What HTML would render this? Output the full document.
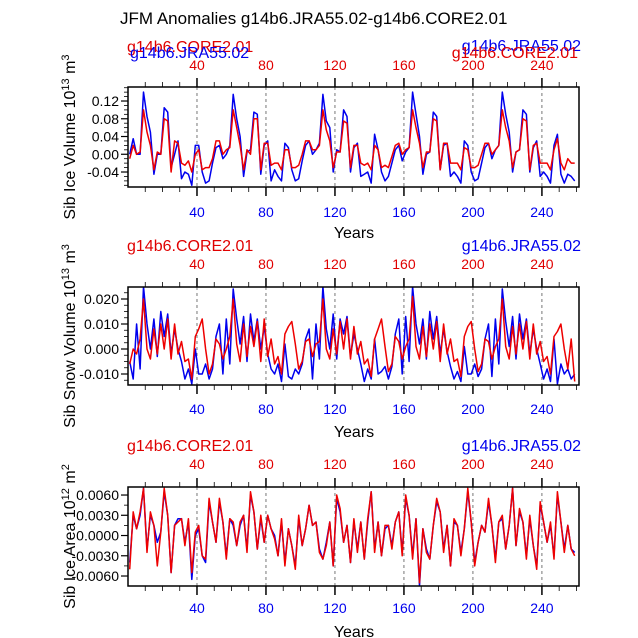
<!DOCTYPE html>
<html><head><meta charset="utf-8"><style>
html,body{margin:0;padding:0;background:#fff}
svg{display:block;font-family:"Liberation Sans",sans-serif}
</style></head><body>
<svg id="chart" width="638" height="638" viewBox="0 0 638 638" xmlns="http://www.w3.org/2000/svg">
<rect width="638" height="638" fill="#fff"/>
<text x="120" y="24" font-size="17" fill="#000">JFM Anomalies g14b6.JRA55.02-g14b6.CORE2.01</text>
</svg>
<script>
// years sampled every 2 years
const years = [];
for (let i = 0; i < 130; i++) years.push(1 + 2 * i);
const xTicks = [40, 80, 120, 160, 200, 240];

const volBlue = [
0.0,0.035,0.0,0.0,0.14,0.085,0.05,-0.045,0.0,0.0,0.105,0.095,-0.03,0.0,0.03,-0.055,-0.04,-0.045,-0.07,0.02,0.02,-0.04,-0.065,-0.06,-0.02,0.015,
0.02,-0.01,0.0,0.02,0.135,0.08,0.04,-0.05,0.005,0.01,0.095,0.09,-0.045,0.02,0.03,-0.06,-0.035,-0.05,-0.06,0.025,0.015,-0.035,-0.06,-0.055,-0.015,0.02,
0.03,0.0,0.01,0.025,0.135,0.075,0.06,-0.04,0.01,0.005,0.10,0.085,-0.04,0.015,0.025,-0.05,-0.045,-0.04,-0.065,0.045,0.01,-0.04,-0.06,-0.05,-0.02,0.01,
0.02,-0.015,0.005,0.015,0.14,0.09,0.04,-0.045,0.0,0.005,0.095,0.085,-0.035,0.02,0.025,-0.05,-0.04,-0.05,-0.065,0.03,0.02,-0.04,-0.06,-0.055,-0.02,0.015,
0.025,-0.01,0.01,0.02,0.14,0.09,0.05,-0.04,0.005,0.01,0.10,0.09,-0.04,0.015,0.03,-0.05,-0.04,-0.05,-0.065,0.02,0.045,-0.045,-0.065,-0.045,-0.05,-0.06];
const volRed = [
-0.01,0.02,0.0,0.005,0.10,0.05,0.02,-0.035,0.005,0.0,0.08,0.075,-0.04,0.03,0.025,-0.02,-0.025,-0.015,-0.04,0.0,0.01,-0.035,-0.03,-0.03,-0.01,0.03,
0.03,0.0,0.01,0.015,0.10,0.06,0.02,-0.035,0.01,0.0,0.08,0.08,-0.035,0.025,0.025,-0.025,-0.02,-0.02,-0.035,0.01,0.01,-0.03,-0.03,-0.025,0.0,0.03,
0.03,0.01,0.01,0.02,0.10,0.055,0.03,-0.03,0.005,0.005,0.075,0.07,-0.03,0.02,0.02,-0.02,-0.025,-0.02,-0.035,0.02,0.01,-0.03,-0.025,-0.03,-0.005,0.02,
0.025,0.0,0.01,0.015,0.10,0.06,0.025,-0.03,0.005,0.005,0.08,0.075,-0.035,0.025,0.025,-0.02,-0.02,-0.02,-0.035,0.015,0.01,-0.03,-0.03,-0.025,0.0,0.025,
0.025,0.0,0.01,0.02,0.10,0.06,0.03,-0.03,0.005,0.01,0.08,0.075,-0.035,0.02,0.025,-0.02,-0.02,-0.02,-0.035,0.01,0.035,-0.02,-0.035,-0.01,-0.02,-0.02];

const snowBlue = [
-0.005,-0.012,0.01,-0.008,0.025,0.01,0.0,0.012,-0.003,0.015,0.005,0.014,-0.002,0.008,0.0,-0.005,-0.012,-0.008,-0.014,0.0,-0.01,-0.01,-0.006,-0.012,-0.008,0.005,
0.01,-0.01,0.012,-0.006,0.024,0.012,0.002,0.013,-0.005,0.014,0.003,0.012,0.0,0.009,-0.002,-0.008,-0.01,-0.006,-0.013,0.002,-0.011,-0.012,-0.008,-0.01,-0.006,0.004,
0.008,-0.012,0.01,-0.004,0.025,0.008,0.0,0.014,-0.004,0.012,0.006,0.013,-0.003,0.006,0.0,-0.006,-0.013,-0.008,-0.012,0.004,-0.01,-0.009,-0.007,-0.012,-0.007,0.006,
0.012,-0.01,0.013,-0.005,0.025,0.01,0.002,0.012,-0.004,0.015,0.004,0.013,-0.002,0.008,-0.001,-0.007,-0.012,-0.009,-0.013,0.001,-0.01,-0.01,-0.006,-0.011,-0.008,0.004,
0.01,-0.011,0.012,-0.006,0.024,0.011,0.001,0.013,-0.004,0.014,0.004,0.012,-0.002,0.008,0.0,-0.006,-0.012,-0.008,-0.013,0.004,-0.014,-0.006,-0.01,-0.008,-0.012,-0.01];
const snowRed = [
-0.006,0.0,-0.002,0.004,0.02,0.0,-0.004,0.008,-0.002,0.01,0.0,0.012,-0.004,0.01,-0.002,0.003,-0.005,-0.004,-0.012,0.005,0.008,0.012,0.0,-0.01,-0.006,0.004,
0.002,-0.004,0.0,0.005,0.02,0.002,-0.005,0.01,-0.003,0.009,0.001,0.011,-0.005,0.012,-0.003,0.004,-0.006,-0.003,-0.01,0.006,0.009,0.011,0.002,-0.008,-0.005,0.003,
0.004,-0.003,0.002,0.003,0.02,0.0,-0.004,0.008,-0.002,0.011,0.0,0.012,-0.004,0.009,-0.002,0.003,-0.006,-0.004,-0.011,0.004,0.008,0.012,0.001,-0.009,-0.006,0.005,
0.003,-0.004,0.001,0.004,0.021,0.001,-0.004,0.009,-0.003,0.01,0.0,0.011,-0.005,0.01,-0.002,0.004,-0.005,-0.004,-0.011,0.005,0.009,0.011,0.0,-0.009,-0.006,0.004,
0.003,-0.004,0.001,0.004,0.02,0.001,-0.004,0.009,-0.002,0.01,0.0,0.011,-0.004,0.01,-0.002,0.003,-0.005,-0.003,-0.01,0.005,0.007,0.01,0.0,-0.008,0.004,-0.013];

const areaBlue = [
-0.004,0.003,0.001,0.003,0.007,-0.002,0.003,0.0015,-0.001,0.0005,0.0065,0.003,-0.0055,0.0015,0.0025,0.0025,-0.001,0.002,-0.0065,0.0,0.001,-0.003,-0.004,0.005,0.002,-0.001,
0.005,0.002,-0.003,0.0025,0.0015,-0.0015,0.0015,0.003,-0.002,0.006,0.0035,-0.002,0.0025,-0.001,0.003,0.001,0.0,-0.003,0.002,-0.004,0.001,-0.0015,-0.0045,0.0025,-0.0015,0.001,
0.0045,0.0015,0.002,-0.002,-0.0035,-0.001,0.002,-0.0045,0.0055,0.0035,-0.001,0.0015,-0.004,0.002,-0.002,0.002,-0.0035,0.002,0.0065,-0.002,0.002,-0.003,0.001,0.0015,-0.0015,0.002,
0.0035,-0.0025,0.0055,0.003,-0.003,0.0025,-0.0075,0.001,-0.002,-0.0035,0.0015,0.005,0.0035,-0.002,0.0015,-0.0045,0.002,0.0015,-0.0025,0.001,0.0065,0.002,-0.004,-0.001,0.0015,0.0005,
0.005,0.0015,-0.0035,0.002,0.0025,-0.002,0.0015,0.007,-0.0015,0.0035,0.002,-0.003,0.0025,-0.0015,-0.0045,0.0045,0.002,-0.001,0.0015,-0.003,0.006,0.002,-0.002,0.0015,-0.002,-0.0025];
const areaRed = [
-0.005,0.0035,0.001,0.0035,0.007,-0.0025,0.0035,0.0015,-0.0045,0.0005,0.007,0.003,-0.0055,0.0015,0.002,0.0025,-0.0015,0.0025,-0.0055,0.0005,0.0015,-0.003,-0.0035,0.0055,0.002,-0.001,
0.0055,0.002,-0.0035,0.0025,0.002,-0.0015,0.002,0.003,-0.0025,0.0065,0.0035,-0.002,0.003,-0.001,0.003,0.001,-0.0005,-0.003,0.0025,-0.0045,0.001,-0.0015,-0.005,0.003,-0.0015,0.001,
0.0045,0.0015,0.002,-0.0025,-0.0035,-0.0015,0.002,-0.0045,0.006,0.004,-0.001,0.0015,-0.004,0.0025,-0.0025,0.002,-0.0035,0.0025,0.0065,-0.0025,0.002,-0.003,0.0015,0.0015,-0.002,0.002,
0.0035,-0.003,0.006,0.003,-0.0035,0.0025,-0.007,0.001,-0.0025,-0.0035,0.0015,0.0055,0.0035,-0.0025,0.0015,-0.0045,0.0025,0.0015,-0.003,0.001,0.007,0.002,-0.0045,-0.001,0.0015,0.0005,
0.0055,0.0015,-0.004,0.002,0.003,-0.002,0.0015,0.007,-0.0015,0.004,0.002,-0.0035,0.003,-0.0015,-0.005,0.005,0.002,-0.001,0.002,-0.0035,0.0065,0.002,-0.0025,0.0015,-0.002,-0.003];

const svg = document.getElementById('chart');
const NS = 'http://www.w3.org/2000/svg';
function mk(tag, attrs, parent) {
  const e = document.createElementNS(NS, tag);
  for (const k in attrs) e.setAttribute(k, attrs[k]);
  (parent || svg).appendChild(e);
  return e;
}
const X0 = 128, X1 = 579, XMIN = 0, XMAX = 261.5;
function xs(v) { return X0 + (v - XMIN) / (XMAX - XMIN) * (X1 - X0); }

const panels = [
 {name:'ice-volume', top:87, bot:187, ymax:0.1516, ymin:-0.0738, majors:[0.12,0.08,0.04,0,-0.04], fmt:v=>v.toFixed(2), minor:0.01,
  lab:'Sib Ice Volume 10', sup:'13', unit:' m', usup:'3', blue:volBlue, red:volRed, hdrY:45, overlap:true, tickY:65, botY:217, yrY:233},
 {name:'snow-volume', top:287, bot:385, ymax:0.0248, ymin:-0.0144, majors:[0.02,0.01,0,-0.01], fmt:v=>v.toFixed(3), minor:0.0025,
  lab:'Sib Snow Volume 10', sup:'13', unit:' m', usup:'3', blue:snowBlue, red:snowRed, hdrY:245, overlap:false, tickY:264, botY:414, yrY:432},
 {name:'ice-area', top:487, bot:586, ymax:0.00719, ymin:-0.00748, majors:[0.006,0.003,0,-0.003,-0.006], fmt:v=>v.toFixed(4), minor:0.0015,
  lab:'Sib Ice Area 10', sup:'12', unit:' m', usup:'2', blue:areaBlue, red:areaRed, hdrY:445, overlap:false, tickY:464, botY:613, yrY:632}
];

panels.forEach(p => {
  const g = mk('g', {});
  
  
  const ys = v => p.top + (p.ymax - v) / (p.ymax - p.ymin) * (p.bot - p.top);
  if (p.overlap) {
    let t = mk('text', {x:127, y:p.hdrY+7, 'font-size':16, fill:'#e00000'}, g); t.textContent='g14b6.CORE2.01';
     
    t = mk('text', {x:130, y:p.hdrY+13, 'font-size':16, fill:'#0000ee'}, g); t.textContent='g14b6.JRA55.02';
     
    t = mk('text', {x:581, y:p.hdrY+6, 'font-size':16, fill:'#0000ee', 'text-anchor':'end'}, g); t.textContent='g14b6.JRA55.02';
     
    t = mk('text', {x:578, y:p.hdrY+13, 'font-size':16, fill:'#e00000', 'text-anchor':'end'}, g); t.textContent='g14b6.CORE2.01';
     
  } else {
    let t = mk('text', {x:127, y:p.hdrY+6, 'font-size':16, fill:'#e00000'}, g); t.textContent='g14b6.CORE2.01';
     
    t = mk('text', {x:581, y:p.hdrY+6, 'font-size':16, fill:'#0000ee', 'text-anchor':'end'}, g); t.textContent='g14b6.JRA55.02';
     
  }
  xTicks.forEach(v => {
    const l = mk('line', {x1:xs(v), x2:xs(v), y1:p.top, y2:p.bot, stroke:'#555', 'stroke-width':0.8, 'stroke-dasharray':'3,3'}, g);
     
  });
  for (let v = 10; v <= 260; v += 10) {
    const maj = v % 40 === 0;
    const len = maj ? 9 : 5;
    mk('line', {x1:xs(v), x2:xs(v), y1:p.top, y2:p.top-len, stroke:'#000', 'stroke-width':maj?1.5:0.8}, g);
    mk('line', {x1:xs(v), x2:xs(v), y1:p.bot, y2:p.bot+len, stroke:'#000', 'stroke-width':maj?1.5:0.8}, g);
  }
  xTicks.forEach(v => {
    let t = mk('text', {x:xs(v), y:p.tickY+5, 'font-size':14, fill:'#e00000', 'text-anchor':'middle'}, g); t.textContent = v;
     
    t = mk('text', {x:xs(v), y:p.botY, 'font-size':14, fill:'#0000ee', 'text-anchor':'middle'}, g); t.textContent = v;
     
  });
  let yt = mk('text', {x:354, y:p.yrY+5, 'font-size':16, fill:'#000', 'text-anchor':'middle'}, g); yt.textContent='Years';
   
  const steps = Math.round((p.ymax - p.ymin) / p.minor) + 2;
  for (let i = -steps; i <= steps; i++) {
    const v = i * p.minor;
    if (v > p.ymax || v < p.ymin) continue;
    const maj = p.majors.some(m => Math.abs(m - v) < p.minor/10);
    mk('line', {x1:X0, x2:X0-(maj?7:4), y1:ys(v), y2:ys(v), stroke:'#000', 'stroke-width':maj?1.2:0.8}, g);
  }
  p.majors.forEach(v => {
    const t = mk('text', {x:X0-9, y:ys(v)+5, 'font-size':14, fill:'#000', 'text-anchor':'end'}, g);
    t.textContent = p.fmt(v);
     
  });
  const cy = (p.top + p.bot) / 2;
  const tt = mk('text', {x:0, y:0, 'font-size':16, fill:'#000', 'text-anchor':'middle', transform:`translate(75,${cy}) rotate(-90)`}, g);
   
  tt.appendChild(document.createTextNode(p.lab));
  let s = mk('tspan', {'font-size':11, dy:-6}, tt); s.textContent = p.sup;
  s = mk('tspan', {dy:6}, tt); s.textContent = p.unit;
  s = mk('tspan', {'font-size':11, dy:-6}, tt); s.textContent = p.usup;
  const cid = 'clip-' + p.name;
  const cp = mk('clipPath', {id:cid}, g);
  mk('rect', {x:X0, y:p.top, width:X1-X0, height:p.bot-p.top}, cp);
  [['jra', p.blue, '#0000ee'], ['core', p.red, '#ee0000']].forEach(([nm, arr, col]) => {
    const d = arr.map((v, i) => (i ? 'L' : 'M') + xs(years[i]).toFixed(1) + ',' + ys(v).toFixed(1)).join('');
    const path = mk('path', {d:d, fill:'none', stroke:col, 'stroke-width':1.5, 'stroke-linejoin':'round', 'clip-path':`url(#${cid})`}, g);
    
    
  });
  const box = mk('rect', {x:X0, y:p.top, width:X1-X0, height:p.bot-p.top, fill:'none', stroke:'#000', 'stroke-width':1.5}, g);
   
});
</script>
</body></html>
